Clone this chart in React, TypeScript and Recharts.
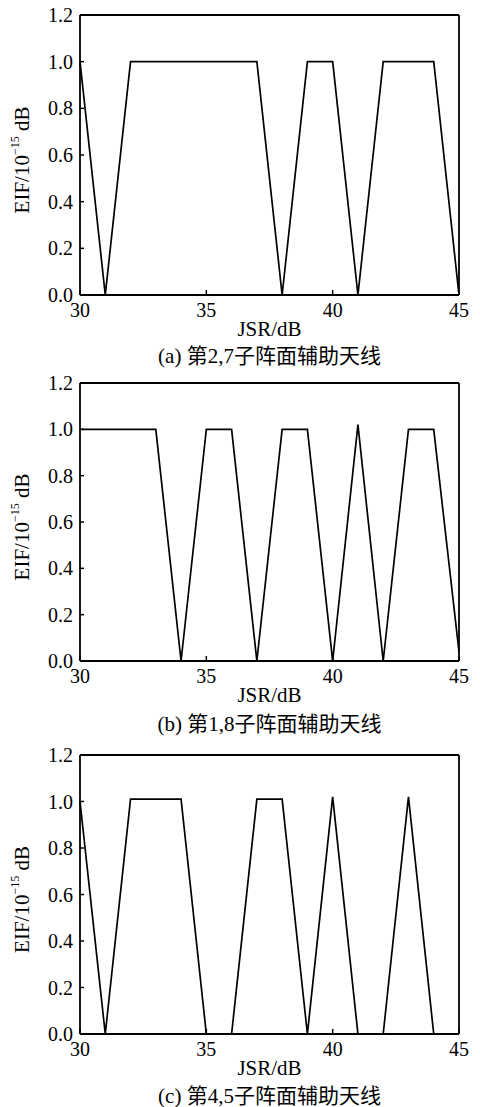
import React from 'react';
import { LineChart, Line, XAxis, YAxis, ReferenceLine } from 'recharts';

// JSR (dB) sampled once per dB
const jsr = [30, 31, 32, 33, 34, 35, 36, 37, 38, 39, 40, 41, 42, 43, 44, 45];

// EIF values (x 1e-15 dB)
const eifA = [1, 0, 1, 1, 1, 1, 1, 1, 0, 1, 1, 0, 1, 1, 1, 0];
const eifB = [1, 1, 1, 1, 0, 1, 1, 0, 1, 1, 0, 1.02, 0, 1, 1, 0.04];
const eifC = [1, 0, 1.01, 1.01, 1.01, 0, 0, 1.01, 1.01, 0, 1.02, 0, 0, 1.02, 0, 0];

const xTicks = [30, 35, 40, 45];
const yTicks = [0, 0.2, 0.4, 0.6, 0.8, 1.0, 1.2];
const captions = ['(a) 第2,7子阵面辅助天线', '(b) 第1,8子阵面辅助天线', '(c) 第4,5子阵面辅助天线'];

const FONT = '"Liberation Serif", "Times New Roman", "Noto Sans CJK SC", serif';

const XTick = (props: any) => {
  const { x, y, payload } = props;
  return (
    <g>
      <line x1={x} x2={x} y1={y} y2={y - 5} stroke="#000" strokeWidth={1.5} />
      <text x={x} y={y + 15} textAnchor="middle" dominantBaseline="central" fontSize={20} fontFamily={FONT} fill="#000">
        {payload.value}
      </text>
    </g>
  );
};

const YTick = (props: any) => {
  const { x, y, payload } = props;
  return (
    <g>
      <line x1={x} x2={x + 4} y1={y} y2={y} stroke="#000" strokeWidth={1.5} />
      <text x={x - 7} y={y} textAnchor="end" dominantBaseline="central" fontSize={20} fontFamily={FONT} fill="#000">
        {Number(payload.value).toFixed(1)}
      </text>
    </g>
  );
};

const XTitle = (props: any) => {
  const vb = props.viewBox || {};
  return (
    <text x={vb.x + vb.width / 2} y={vb.y + 34} textAnchor="middle" dominantBaseline="central" fontSize={21} fontFamily={FONT} fill="#000">
      JSR/dB
    </text>
  );
};

const YTitle = (props: any) => {
  const vb = props.viewBox || {};
  const cx = 22;
  const cy = vb.y + vb.height / 2 + 5;
  return (
    <text
      x={cx}
      y={cy}
      transform={`rotate(-90, ${cx}, ${cy})`}
      textAnchor="middle"
      dominantBaseline="central"
      fontSize={21}
      fontFamily={FONT}
      fill="#000"
    >
      EIF/10
      <tspan dy={-7} fontSize={12}>−15</tspan>
      <tspan dy={7}> dB</tspan>
    </text>
  );
};

const Panel = ({ values, top, plotH, caption }: { values: number[]; top: number; plotH: number; caption: string }) => {
  const data = jsr.map((x, i) => ({ x, y: values[i] }));
  const marginTop = 15;
  const xAxisH = 75;
  return (
    <div style={{ position: 'absolute', left: 0, top: top - marginTop }}>
      <LineChart width={480} height={marginTop + plotH + xAxisH} data={data} margin={{ top: marginTop, right: 21, bottom: 0, left: 0 }}>
        <XAxis
          dataKey="x"
          type="number"
          domain={[30, 45]}
          ticks={xTicks}
          tick={<XTick />}
          tickSize={0}
          tickMargin={0}
          tickLine={false}
          height={xAxisH}
          axisLine={{ stroke: '#000', strokeWidth: 1.8 }}
          label={<XTitle />}
        />
        <YAxis
          type="number"
          domain={[0, 1.2]}
          ticks={yTicks}
          tick={<YTick />}
          tickSize={0}
          tickMargin={0}
          tickLine={false}
          width={80}
          axisLine={{ stroke: '#000', strokeWidth: 1.8 }}
          label={<YTitle />}
        />
        <ReferenceLine y={1.2} stroke="#000" strokeWidth={1.8} />
        <ReferenceLine x={45} stroke="#000" strokeWidth={1.8} />
        <Line type="linear" dataKey="y" stroke="#000" strokeWidth={1.7} dot={false} isAnimationActive={false} />
      </LineChart>
      <div
        style={{
          position: 'absolute',
          left: 0,
          width: 539,
          top: marginTop + 341 - 12,
          lineHeight: '24px',
          textAlign: 'center',
          fontSize: 21,
          fontFamily: FONT,
          color: '#000',
          whiteSpace: 'nowrap',
        }}
      >
        {caption}
      </div>
    </div>
  );
};

export default function App() {
  return (
    <div style={{ position: 'absolute', left: 0, top: 0, width: 480, height: 1107, background: '#fff' }}>
      <Panel values={eifA} top={15} plotH={280} caption={captions[0]} />
      <Panel values={eifB} top={383} plotH={278} caption={captions[1]} />
      <Panel values={eifC} top={755} plotH={279} caption={captions[2]} />
    </div>
  );
}
